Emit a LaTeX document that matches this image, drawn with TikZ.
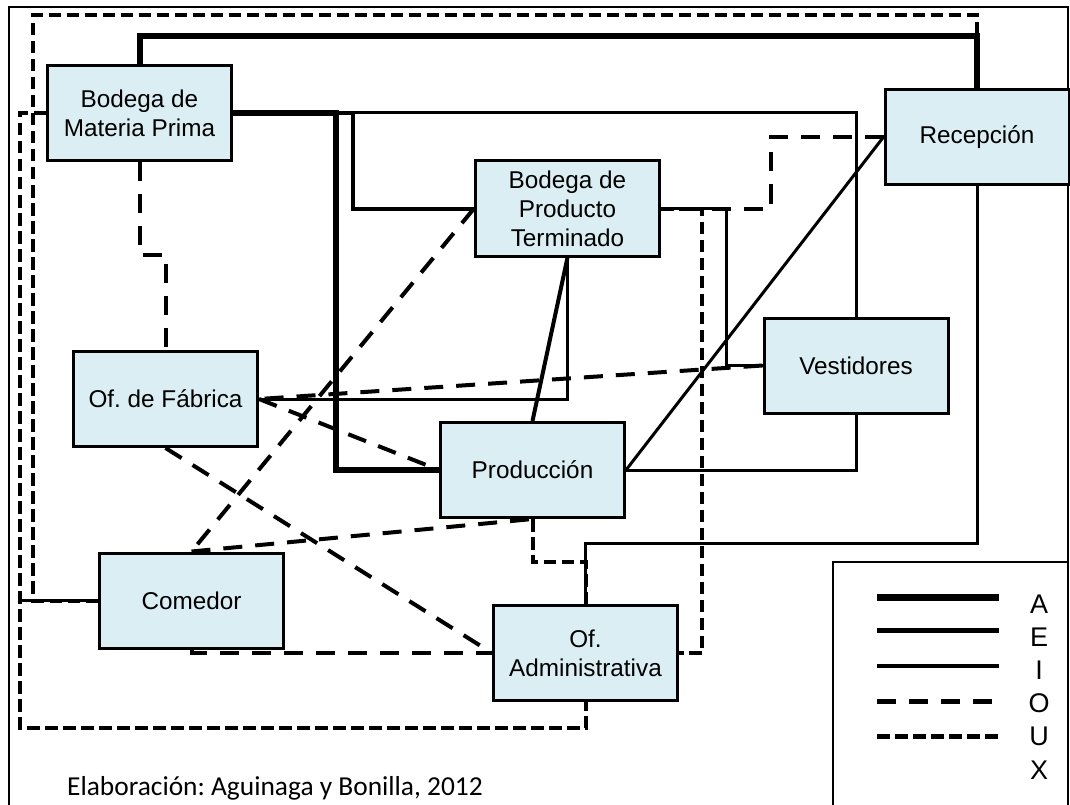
\documentclass[tikz,border=0pt]{standalone}
\usepackage{fontspec}
\setmainfont{Liberation Sans}
\newfontfamily\footfont{Carlito}
\usetikzlibrary{backgrounds}
\definecolor{boxblue}{HTML}{DAEEF3}
\frenchspacing
\begin{document}
\begin{tikzpicture}[x=1pt,y=-1pt,line join=miter,
  box/.style={draw,line width=3pt,fill=boxblue,align=center,inner sep=0pt,
    minimum width=184pt,minimum height=95pt,font=\fontsize{24.3}{29}\selectfont},
  relA/.style={line width=6pt},
  relE/.style={line width=4pt},
  relI/.style={line width=3pt},
  relO/.style={line width=4pt,dash pattern=on 19pt off 13pt},
  relU/.style={line width=4pt,dash pattern=on 12.5pt off 5.5pt},
  frame/.style={line width=2pt},
  legtxt/.style={inner sep=0pt,font=\fontsize{27}{32}\selectfont}]
\useasboundingbox (0,0) rectangle (1070,805);

% frame and legend box
\draw[frame] (9,806) -- (9,7) -- (1068,7) -- (1068,806);
\draw[line width=2.5pt] (833,806) -- (833,562) -- (1068,562);

% boxes
\node[box] (BMP) at (139.5,113) {Bodega de\\Materia Prima};
\node[box] (BPT) at (567.5,208.5) {Bodega de\\Producto\\Terminado};
\node[box] (Rec) at (977,137) {Recepción};
\node[box] (Vest) at (856,365.5) {Vestidores};
\node[box] (OfF) at (165.5,399) {Of. de Fábrica};
\node[box] (Prod) at (532.5,470) {Producción};
\node[box] (Com) at (191.5,600.5) {Comedor};
\node[box] (OfA) at (585.5,653) {Of.\\Administrativa};

% helper coordinates
\coordinate (a1) at (0,36);
\coordinate (a2) at (336,0);
\coordinate (e1) at (353,0);
\coordinate (i1) at (0,543);
\coordinate (i2) at (726,0);
\coordinate (c20) at (20,600.5);
\coordinate (o1) at (771,0);
\coordinate (o2) at (0,255);
\coordinate (u1) at (33,15);
\coordinate (u5) at (20,728);
\coordinate (u6) at (702,0);
\coordinate (u7) at (0,562);

\begin{pgfonlayer}{background}
% A
\draw[relA] (BMP.north) -- (BMP.north |- a1) -| (Rec.north);
\draw[relA] (BMP.east) -- (BMP.east -| a2) |- (Prod.west);
% E
\draw[relE] (BMP.east) -- (BMP.east -| e1) |- (BPT.west);
\draw[relE] (BPT.south) -- (Prod.north);
% I
\draw[relI] (BMP.east) -- (BMP.east -| Vest.north) -- (Vest.north);
\draw[relI] (Vest.south) |- (Prod.east);
\draw[relI] (Rec.south) -- (Rec.south |- i1) -| (OfA.north);
\draw[relI] (Rec.west) -- (Prod.east);
\draw[relI] (BPT.east) -- (BPT.east -| i2) |- (Vest.west);
\draw[relI] (BPT.south) |- (OfF.east);
\draw[relI] (Com.west) -- (c20);
% O
\draw[relO] (Rec.west) -- (Rec.west -| o1) |- (BPT.east);
\draw[relO] (Vest.west) -- (OfF.east);
\draw[relO] (OfF.east) -- (Prod.west);
\draw[relO] (BPT.west) -- (Com.north);
\draw[relO] (Com.north) -- (Prod.south);
\draw[relO] (OfF.south) -- (OfA.west);
\draw[relO] (Com.south) |- (OfA.west);
\draw[relO] (BMP.south) -- (BMP.south |- o2) -| (OfF.north);
% U
\draw[relU] (Com.west) -- (Com.west -| u1) -- (u1) -| (Rec.north);
\draw[relU] (BMP.west) -| (u5) -| (OfA.south);
\draw[relU] (BPT.east) -- (BPT.east -| u6) |- (OfA.east);
\draw[relU] (Prod.south) -- (Prod.south |- u7) -| (OfA.north);
\end{pgfonlayer}

% legend
\draw[line width=7pt] (877,597) -- (999,597);
\draw[line width=5pt] (877,630.5) -- (999,630.5);
\draw[line width=3.5pt] (877,666) -- (999,666);
\draw[line width=5pt,dash pattern=on 19pt off 13pt] (877,701) -- (999,701);
\draw[line width=5pt,dash pattern=on 12.5pt off 5.5pt] (877,736) -- (999,736);
\foreach \l [count=\i] in {A,E,I,O,U,X}
  \node[legtxt,anchor=base] (leg\i) at (1039,{613+33.2*(\i-1)}) {\l};

% footer
\node[anchor=base west,inner sep=0pt,font=\footfont\fontsize{27.4}{32}\selectfont] (foot) at (67,795) {Elaboración: Aguinaga y Bonilla, 2012};
\end{tikzpicture}
\end{document}
